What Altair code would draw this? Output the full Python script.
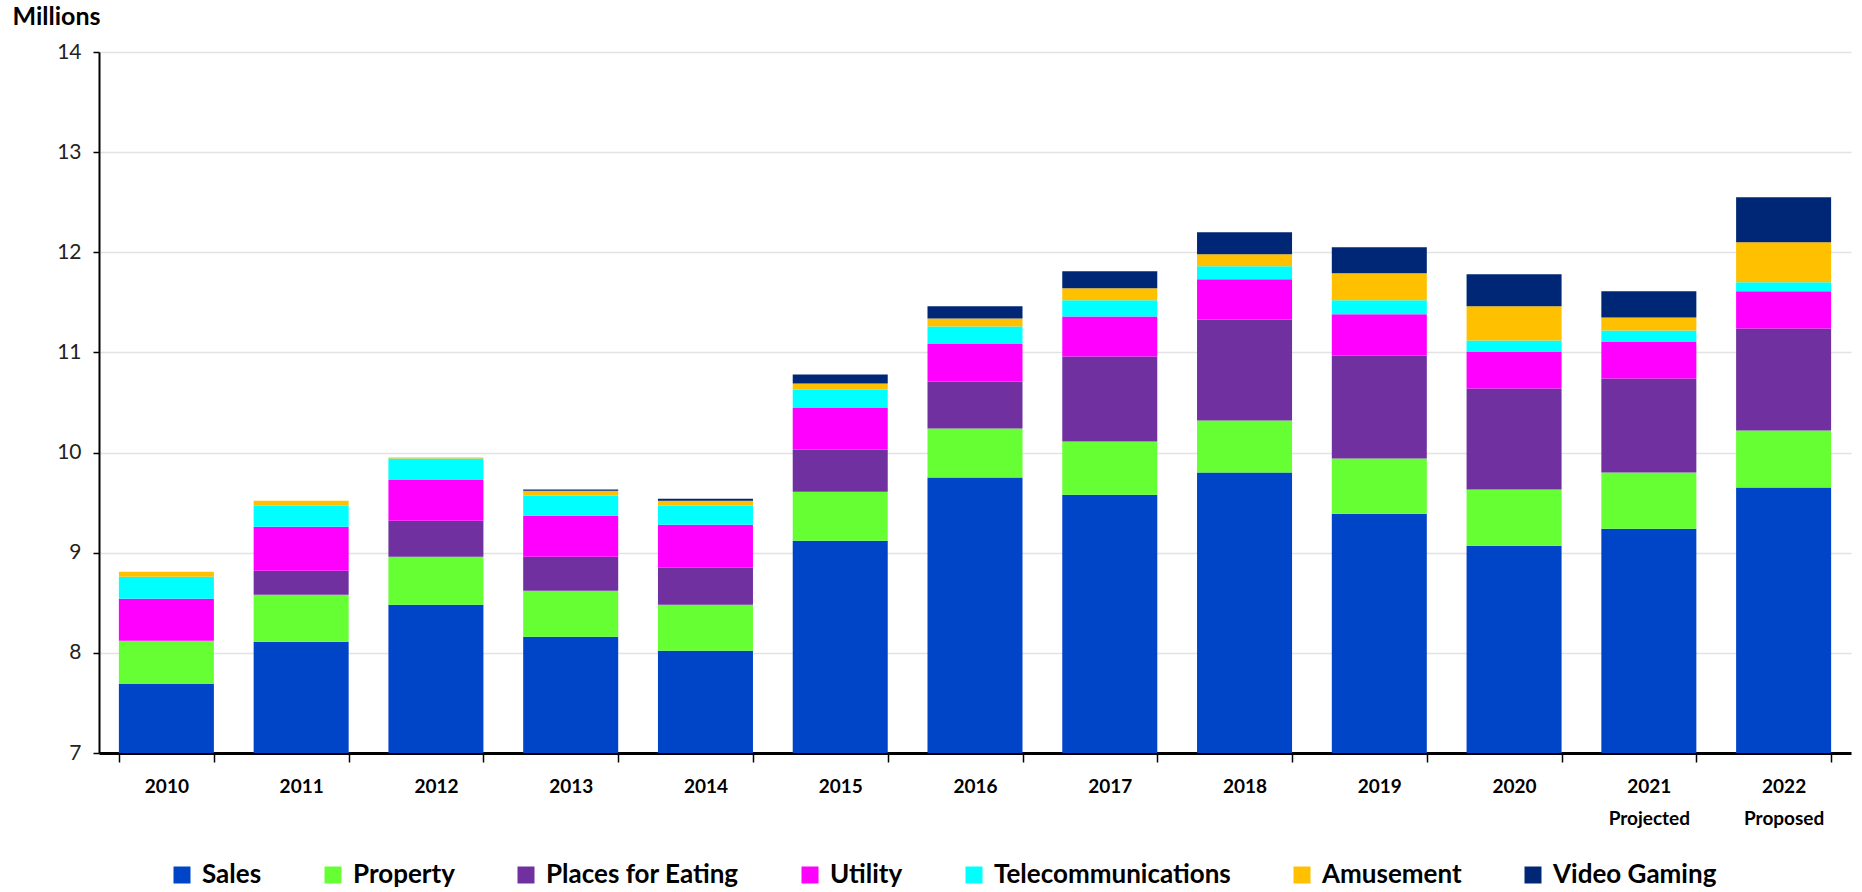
import altair as alt
import pandas as pd

# Category axis
years = ["2010", "2011", "2012", "2013", "2014", "2015", "2016",
         "2017", "2018", "2019", "2020", "2021", "2022"]
year_notes = {"2021": "Projected", "2022": "Proposed"}

# Revenue streams (millions), stacked bottom to top
series = ["Sales", "Property", "Places for Eating", "Utility",
          "Telecommunications", "Amusement", "Video Gaming"]
colors = ["#0044C8", "#66FF33", "#7030A0", "#FF00FF",
          "#00FFFF", "#FFC000", "#002776"]

sales = [7.69, 8.11, 8.48, 8.16, 8.02, 9.12, 9.75, 9.58, 9.80, 9.39, 9.07, 9.24, 9.65]
property_ = [0.43, 0.47, 0.48, 0.46, 0.46, 0.49, 0.49, 0.53, 0.52, 0.55, 0.56, 0.56, 0.57]
eating = [0.00, 0.24, 0.36, 0.34, 0.37, 0.42, 0.47, 0.85, 1.01, 1.03, 1.01, 0.94, 1.02]
utility = [0.42, 0.44, 0.41, 0.41, 0.43, 0.42, 0.38, 0.40, 0.40, 0.41, 0.37, 0.37, 0.37]
telecom = [0.22, 0.21, 0.21, 0.20, 0.19, 0.18, 0.17, 0.16, 0.13, 0.14, 0.11, 0.11, 0.09]
amusement = [0.05, 0.05, 0.01, 0.05, 0.05, 0.06, 0.08, 0.12, 0.12, 0.27, 0.34, 0.13, 0.40]
gaming = [0.00, 0.00, 0.00, 0.01, 0.02, 0.09, 0.12, 0.17, 0.22, 0.26, 0.32, 0.26, 0.45]

values_by_series = [sales, property_, eating, utility, telecom, amusement, gaming]

rows = []
for s_idx, (name, vals) in enumerate(zip(series, values_by_series)):
    for year, v in zip(years, vals):
        rows.append({"year": year, "series": name, "order": s_idx, "value": v})
df = pd.DataFrame(rows)

# Two-line labels for the forecast years
label_expr = "datum.value"
for y, note in year_notes.items():
    label_expr = f"datum.value == '{y}' ? ['{y}', '{note}'] : " + label_expr

FONT = "Lato"

chart = (
    alt.Chart(df)
    .mark_bar()
    .encode(
        x=alt.X(
            "year:N",
            sort=years,
            scale=alt.Scale(paddingInner=0.295, paddingOuter=0.1475),
            axis=alt.Axis(
                title=None,
                labelAngle=0,
                labelExpr=label_expr,
                labelFont=FONT,
                labelFontSize=19,
                labelFontWeight="bold",
                labelColor="#000000",
                labelLineHeight=32,
                labelPadding=15,
                tickBand="extent",
                tickSize=9,
                tickColor="#000000",
                tickWidth=1.5,
                domainColor="#000000",
                domainWidth=3,
                grid=False,
            ),
        ),
        y=alt.Y(
            "value:Q",
            stack="zero",
            scale=alt.Scale(domain=[7, 14], clamp=True, nice=False, zero=False),
            axis=alt.Axis(
                title="Millions",
                titleAngle=0,
                titleAlign="left",
                titleBaseline="bottom",
                titleX=-87,
                titleY=-23,
                titleFont=FONT,
                titleFontSize=25,
                titleFontWeight="bold",
                titleColor="#000000",
                values=[7, 8, 9, 10, 11, 12, 13, 14],
                labelFont=FONT,
                labelFontSize=21,
                labelColor="#222222",
                labelPadding=12,
                tickSize=6,
                tickColor="#000000",
                tickWidth=1.5,
                domainColor="#000000",
                domainWidth=2,
                gridColor="#E3E3E3",
                gridWidth=1.5,
            ),
        ),
        color=alt.Color(
            "series:N",
            sort=series,
            scale=alt.Scale(domain=series, range=colors),
            legend=alt.Legend(
                title=None,
                orient="none",
                direction="horizontal",
                legendX=70,
                legendY=810,
                symbolType="square",
                symbolSize=289,
                symbolStrokeWidth=0,
                labelFont=FONT,
                labelFontSize=26,
                labelFontWeight="bold",
                labelColor="#000000",
                labelOffset=7,
                columnPadding=58,
                padding=0,
                labelLimit=400,
            ),
        ),
        order=alt.Order("order:Q", sort="ascending"),
    )
    .properties(
        width=1752,
        height=701,
        autosize=alt.AutoSizeParams(type="none"),
        padding={"left": 99, "top": 52, "right": 11, "bottom": 139},
        background="#FFFFFF",
    )
    .configure_view(stroke=None)
)

chart.save("out.html", embed_options={"renderer": "svg", "actions": False})
